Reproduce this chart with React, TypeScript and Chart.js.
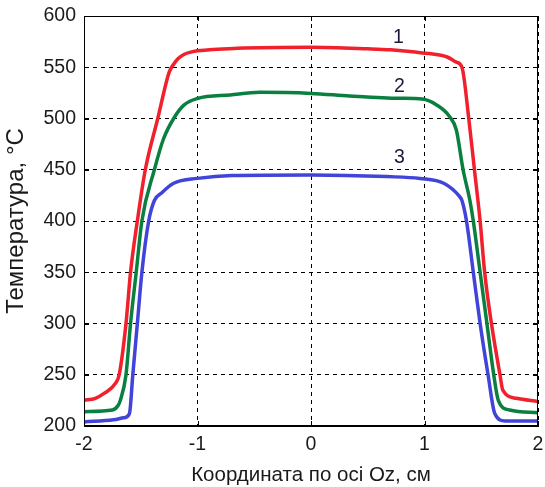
import React, { useEffect, useRef } from "react";
import { Chart, registerables } from "chart.js";

Chart.register(...registerables);

const xTitleLabel = "Координата по осі Oz, см";
const yTitleLabel = "Температура, °C";

const redX = [-2.0, -1.9, -1.82, -1.72, -1.69, -1.63, -1.59, -1.53, -1.46, -1.35, -1.25, -1.21, -1.17, -1.12, -1.05, -1.0, -0.65, 0, 0.5, 0.7, 0.98, 1.2, 1.28, 1.33, 1.39, 1.44, 1.49, 1.53, 1.59, 1.665, 1.69, 1.81, 2.0];
const redY = [225, 227, 232, 242, 250, 300, 350, 400, 450, 500, 545, 553, 558.5, 562.5, 565, 566, 568.5, 569.5, 568, 567, 564, 560, 555, 550, 500, 450, 400, 350, 300, 250, 235, 227, 224];

const greenX = [-2.0, -1.75, -1.7, -1.68, -1.63, -1.59, -1.54, -1.49, -1.38, -1.3, -1.21, -1.12, -1.0, -0.71, -0.45, 0, 0.34, 0.78, 0.98, 1.11, 1.22, 1.28, 1.34, 1.4, 1.43, 1.49, 1.55, 1.61, 1.65, 1.75, 2.0];
const greenY = [214, 215.6, 220, 225, 250, 300, 350, 400, 450, 480, 500, 513, 519.5, 523, 525.5, 524.5, 522, 519.7, 519, 513, 502, 489, 450, 420, 400, 350, 300, 250, 225, 215.6, 213];

const blueX = [-2.0, -1.74, -1.65, -1.6, -1.57, -1.53, -1.49, -1.43, -1.38, -1.32, -1.21, -1.0, -0.7, 0, 0.67, 0.96, 1.17, 1.31, 1.33, 1.37, 1.43, 1.49, 1.56, 1.62, 1.71, 2.0];
const blueY = [204, 206, 208, 212, 250, 300, 350, 400, 420, 427, 436.8, 441.6, 444.5, 445, 443.3, 441.5, 436.8, 423.7, 420, 400, 350, 300, 250, 212, 205, 205];

const curveLabels = ["1", "2", "3"];
const curveLabelX = [0.77, 0.78, 0.78];
const curveLabelY = [578.5, 530.7, 461.5];

const FONT = "'Liberation Sans', Arial, sans-serif";

const toPoints = (xs: number[], ys: number[]) => xs.map((x, i) => ({ x, y: ys[i] }));

export default function App() {
  const ref = useRef<HTMLCanvasElement | null>(null);

  useEffect(() => {
    if (!ref.current) return;
    const boxPlugin = {
      id: "boxAndLabels",
      afterDatasetsDraw(chart: any) {
        const { ctx, chartArea, scales } = chart;
        const { left, right, top, bottom } = chartArea;
        ctx.save();
        ctx.strokeStyle = "#000";
        ctx.lineWidth = 1;
        ctx.setLineDash([]);
        ctx.strokeRect(left + 0.5, top + 0.5, right - left - 1, bottom - top - 1);
        const tl = 5;
        ctx.beginPath();
        scales.x.ticks.forEach((t: any) => {
          const px = Math.round(scales.x.getPixelForValue(t.value)) + 0.5;
          ctx.moveTo(px, bottom);
          ctx.lineTo(px, bottom - tl);
          ctx.moveTo(px, top);
          ctx.lineTo(px, top + tl);
        });
        scales.y.ticks.forEach((t: any) => {
          const py = Math.round(scales.y.getPixelForValue(t.value)) + 0.5;
          ctx.moveTo(left, py);
          ctx.lineTo(left + tl, py);
          ctx.moveTo(right, py);
          ctx.lineTo(right - tl, py);
        });
        ctx.stroke();
        ctx.fillStyle = "#1a1a3a";
        ctx.font = `19.5px ${FONT}`;
        ctx.textAlign = "center";
        ctx.textBaseline = "middle";
        curveLabels.forEach((t, i) => {
          ctx.fillText(t, scales.x.getPixelForValue(curveLabelX[i]), scales.y.getPixelForValue(curveLabelY[i]));
        });
        ctx.restore();
      },
    };
    const chart = new Chart(ref.current, {
      type: "line",
      data: {
        datasets: [
          { label: "1", data: toPoints(redX, redY), borderColor: "#f0202c", borderWidth: 3.5, pointRadius: 0, cubicInterpolationMode: "monotone" },
          { label: "2", data: toPoints(greenX, greenY), borderColor: "#0a8040", borderWidth: 3.5, pointRadius: 0, cubicInterpolationMode: "monotone" },
          { label: "3", data: toPoints(blueX, blueY), borderColor: "#4044d8", borderWidth: 3.5, pointRadius: 0, cubicInterpolationMode: "monotone" },
        ],
      },
      options: {
        responsive: false,
        animation: false,
        layout: { padding: { top: 16, right: 7, left: 0, bottom: 0 } },
        plugins: { legend: { display: false }, tooltip: { enabled: false } },
        scales: {
          x: {
            type: "linear",
            min: -2,
            max: 2,
            ticks: { stepSize: 1, color: "#1a1a1a", font: { size: 19.5, family: FONT }, padding: 7, maxRotation: 0 },
            grid: { color: "#000", lineWidth: 1, drawTicks: false },
            border: { color: "#000", width: 1, dash: [4, 4] },
            title: { display: true, text: xTitleLabel, color: "#1a1a1a", font: { size: 20.5, family: FONT, lineHeight: 1 }, padding: { top: 0, bottom: 1 } },
            afterFit: (s: any) => { s.height = 61; s.paddingLeft = 0; s.paddingRight = 0; },
          },
          y: {
            min: 200,
            max: 600,
            ticks: { stepSize: 50, color: "#1a1a1a", font: { size: 19.5, family: FONT }, padding: 8 },
            grid: { color: "#000", lineWidth: 1, drawTicks: false },
            border: { color: "#000", width: 1, dash: [4, 4] },
            title: { display: true, text: yTitleLabel, color: "#1a1a1a", font: { size: 24, family: FONT, lineHeight: 1 }, padding: { top: 4, bottom: 0 } },
            afterFit: (s: any) => { s.width = 84; s.paddingTop = 0; s.paddingBottom = 0; },
          },
        },
      },
      plugins: [boxPlugin],
    } as any);
    return () => chart.destroy();
  }, []);

  return (
    <div style={{ position: "fixed", left: 0, top: 0, width: 545, height: 487, background: "#fff" }}>
      <canvas ref={ref} width={545} height={487} style={{ width: 545, height: 487, display: "block" }} />
    </div>
  );
}
